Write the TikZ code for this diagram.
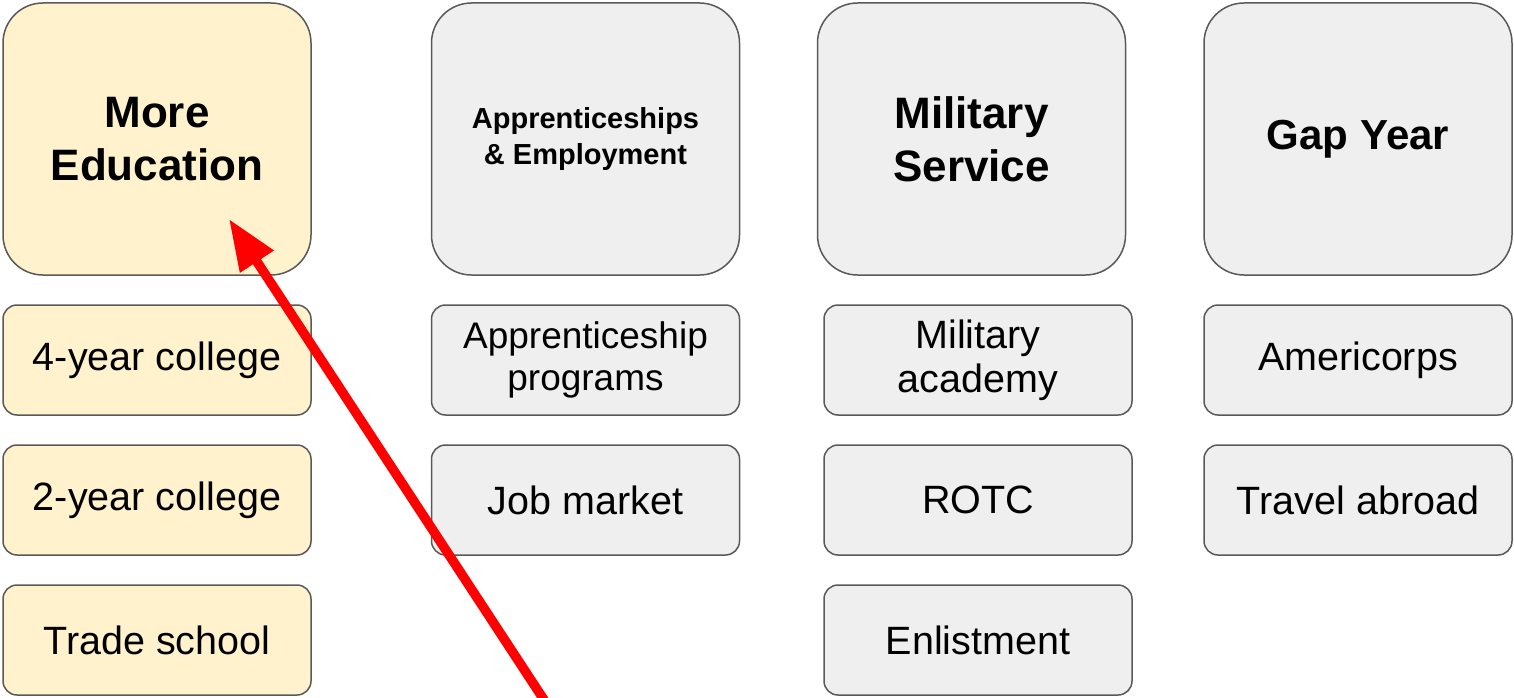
\documentclass[tikz,border=0pt]{standalone}
\usepackage{fontspec}
\setmainfont{Liberation Sans}
\usepackage{tikz}
\usetikzlibrary{positioning,arrows.meta}
\definecolor{edyellow}{HTML}{FFF2CC}
\definecolor{boxgray}{HTML}{EFEFEF}
\definecolor{boxline}{HTML}{595959}

\begin{document}
\begin{tikzpicture}[x=1pt, y=-1pt, node distance=30pt, >={Triangle[length=51pt, width=38pt]}]
    % Styles
    \tikzstyle{head}=[rectangle, draw=boxline, line width=1.5pt, outer sep=0pt, rounded corners=40pt, fill=boxgray, align=center, minimum width=308pt, minimum height=272pt, font=\bfseries\fontsize{44}{53}\selectfont]
    \tikzstyle{edhead}=[head, fill=edyellow]
    \tikzstyle{sub}=[rectangle, draw=boxline, line width=1.5pt, outer sep=0pt, rounded corners=14pt, fill=boxgray, align=center, minimum width=308pt, minimum height=110pt, font=\fontsize{39.5}{44}\selectfont]
    \tikzstyle{edsub}=[sub, fill=edyellow]

    \clip (0,0) rectangle (1514,698);

    % Header row
    \node (moreedu) [edhead] at (157,139) {More\\Education};
    \node (apprhead) [head, font=\bfseries\fontsize{29}{36}\selectfont] at (585.5,139) {Apprenticeships\\\& Employment};
    \node (milhead) [head] at (971.5,139) {Military\\Service};
    \node (gaphead) [head, font=\bfseries\fontsize{42}{50}\selectfont] at (1358,139) {Gap Year};

    % Education column
    \node (fouryear) [edsub, below=of moreedu] {4-year college};
    \node (twoyear) [edsub, below=of fouryear] {2-year college};
    \node (trade) [edsub, below=of twoyear] {Trade school};

    % Apprenticeships column
    \node (apprprog) [sub, below=of apprhead, font=\fontsize{37}{42}\selectfont] {Apprenticeship\\programs};
    \node (jobmarket) [sub, below=of apprprog] {Job market};

    % Military column
    \node (academy) [sub, below=of milhead, xshift=6.5pt] {Military\\academy};
    \node (rotc) [sub, below=of academy] {ROTC};
    \node (enlist) [sub, below=of rotc] {Enlistment};

    % Gap year column
    \node (americorps) [sub, below=of gaphead] {Americorps};
    \node (travel) [sub, below=of americorps] {Travel abroad};

    % Pointer
    \coordinate (tail) at (548,706);
    \coordinate (tip) at (229,219);
    \draw[->, red, line width=9.5pt] (tail) -- (tip);

\end{tikzpicture}
\end{document}
